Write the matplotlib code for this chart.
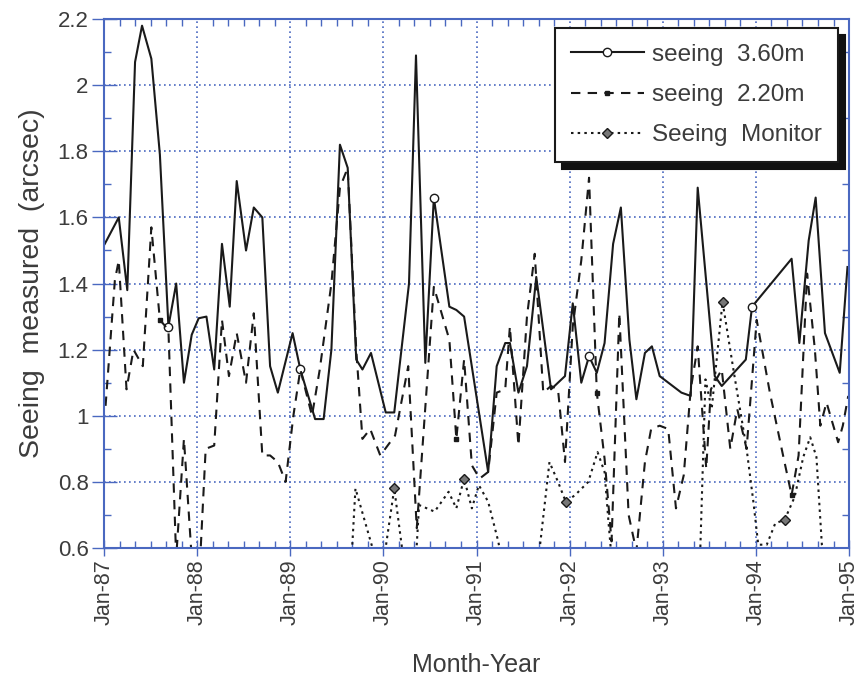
import matplotlib
matplotlib.use("Agg")
import matplotlib.pyplot as plt
from matplotlib.ticker import MultipleLocator

# months since Jan-87
seeing_360_month = [0.1, 1.9, 3.0, 4.0, 4.9, 6.1, 7.2, 8.3, 9.3, 10.3, 11.3, 12.2, 13.2, 14.2, 15.2,
                    16.2, 17.1, 18.3, 19.3, 20.4, 21.4, 22.4, 24.3, 25.3, 27.2, 28.3, 29.3, 30.4,
                    31.4, 32.5, 33.3, 34.4, 36.3, 37.4, 39.3, 40.2, 41.4, 42.5, 44.5, 45.4, 46.4,
                    49.5, 50.6, 51.7, 52.3, 53.4, 54.5, 55.7, 57.6, 59.4, 60.4, 61.5, 62.5, 63.5,
                    64.5, 65.6, 66.6, 67.7, 68.6, 69.7, 70.6, 71.6, 74.4, 75.6, 76.5, 78.7, 79.6,
                    82.7, 83.5, 88.6, 89.6, 90.8, 91.7, 92.9, 94.8, 95.8]
seeing_360 = [1.52, 1.60, 1.38, 2.07, 2.18, 2.08, 1.79, 1.27, 1.40, 1.10, 1.245, 1.295, 1.30, 1.14, 1.52,
              1.33, 1.71, 1.50, 1.63, 1.60, 1.15, 1.07, 1.25, 1.14, 0.99, 0.99, 1.20, 1.82,
              1.75, 1.17, 1.14, 1.19, 1.01, 1.01, 1.40, 2.09, 1.16, 1.66, 1.33, 1.32, 1.30,
              0.83, 1.15, 1.22, 1.22, 1.07, 1.15, 1.42, 1.08, 1.12, 1.34, 1.10, 1.18, 1.13,
              1.22, 1.52, 1.63, 1.23, 1.05, 1.19, 1.21, 1.12, 1.07, 1.06, 1.69, 1.12, 1.09,
              1.17, 1.33, 1.475, 1.22, 1.53, 1.66, 1.25, 1.13, 1.45]
seeing_360_marks = [8.3, 25.3, 42.5, 62.5, 83.5]

seeing_220_month = [0.2, 1.4, 1.9, 2.9, 3.8, 5.0, 6.1, 7.2, 8.3, 9.3, 10.3, 11.3, 12.4, 13.1, 14.2,
                    15.2, 16.1, 17.1, 18.3, 19.3, 20.4, 21.4, 22.4, 23.4, 24.4, 25.3, 26.8, 27.8,
                    29.3, 30.4, 31.4, 32.5, 33.3, 34.3, 35.6, 37.5, 39.2, 40.3, 42.5, 44.5, 45.4,
                    46.4, 47.4, 48.4, 49.5, 50.6, 51.7, 52.3, 53.4, 54.5, 55.5, 56.6, 57.6, 58.5,
                    59.4, 60.4, 61.5, 62.5, 63.5, 64.5, 65.4, 66.4, 67.6, 68.6, 69.7, 70.5, 71.6,
                    72.7, 73.7, 74.7, 75.6, 76.5, 77.6, 78.2, 79.6, 80.7, 81.6, 82.8, 84.1, 85.8,
                    87.5, 88.6, 89.5, 90.6, 91.6, 92.3, 93.1, 94.6, 95.2, 95.9]
seeing_220 = [1.03, 1.41, 1.47, 1.08, 1.20, 1.15, 1.57, 1.29, 1.26, 0.57, 0.93, 0.57, 0.57, 0.90, 0.91,
              1.29, 1.12, 1.25, 1.10, 1.31, 0.88, 0.88, 0.86, 0.80, 1.00, 1.14, 1.00, 1.14,
              1.40, 1.69, 1.75, 1.20, 0.93, 0.96, 0.88, 0.94, 1.15, 0.66, 1.39, 1.23, 0.93,
              1.17, 0.85, 0.81, 0.83, 1.07, 1.08, 1.27, 0.91, 1.30, 1.49, 1.07, 1.09, 1.08,
              0.86, 1.27, 1.47, 1.72, 1.07, 0.87, 0.62, 1.31, 0.70, 0.59, 0.86, 0.96, 0.97,
              0.96, 0.72, 0.82, 1.08, 1.21, 0.84, 1.08, 1.14, 0.90, 1.02, 0.90, 1.29, 1.07,
              0.88, 0.76, 0.88, 1.43, 1.20, 0.97, 1.04, 0.92, 0.97, 1.06]
seeing_220_marks = [7.2, 45.4, 63.5, 88.6]

monitor_month = [31.9, 32.4, 33.5, 34.6, 36.1, 37.4, 38.4, 40.2, 40.6, 41.6, 42.6, 44.4, 45.4, 46.4,
                 47.4, 48.3, 49.5, 50.8, 51.2, 56.0, 57.4, 58.5, 59.5, 60.7, 62.4, 63.6, 64.5,
                 65.0, 65.4, 76.8, 77.5, 78.3, 79.7, 81.1, 82.8, 83.7, 84.3, 85.4, 86.5, 87.7,
                 89.0, 90.1, 91.0, 91.8, 92.5, 93.0]
monitor = [0.57, 0.78, 0.69, 0.60, 0.57, 0.78, 0.60, 0.57, 0.73, 0.72, 0.71, 0.77, 0.72, 0.81,
           0.72, 0.79, 0.74, 0.62, 0.57, 0.57, 0.86, 0.80, 0.74, 0.76, 0.80, 0.89, 0.83,
           0.68, 0.57, 0.57, 1.11, 1.02, 1.345, 1.14, 0.90, 0.735, 0.61, 0.61, 0.675, 0.685,
           0.755, 0.875, 0.935, 0.875, 0.61, 0.57]
monitor_marks = [37.4, 46.4, 59.5, 79.7, 87.7]

year_labels = ["Jan-87", "Jan-88", "Jan-89", "Jan-90", "Jan-91", "Jan-92", "Jan-93", "Jan-94", "Jan-95"]
y_ticks = [0.6, 0.8, 1.0, 1.2, 1.4, 1.6, 1.8, 2.0, 2.2]
y_labels = ["0.6", "0.8", "1", "1.2", "1.4", "1.6", "1.8", "2", "2.2"]

blue = "#4a68c0"
txt = "#3c3c3c"
ink = "#1a1a1a"
plt.rcParams["font.family"] = ["Liberation Sans", "DejaVu Sans"]

fig = plt.figure(figsize=(8.61, 6.81), dpi=100)
ax = fig.add_axes([0.1208, 0.1953, 0.8653, 0.7767])

ax.plot(seeing_360_month, seeing_360, "-", color=ink, lw=1.5,
        marker="o", ms=6, mfc="white", mec=ink, mew=1.0,
        markevery=[seeing_360_month.index(m) for m in seeing_360_marks], label="seeing  3.60m")
ax.plot(seeing_220_month, seeing_220, color=ink, lw=1.5, ls=(0, (4.5, 3.5)),
        marker="s", ms=3.5, mfc=ink, mec=ink,
        markevery=[seeing_220_month.index(m) for m in seeing_220_marks], label="seeing  2.20m")
ax.plot(monitor_month, monitor, color=ink, lw=1.5, ls=(0, (1.2, 2.0)),
        marker="D", ms=5, mfc="#777777", mec=ink, mew=1.0,
        markevery=[monitor_month.index(m) for m in monitor_marks], label="Seeing  Monitor")

ax.set_xlim(0, 96)
ax.set_ylim(0.6, 2.2)
ax.set_xticks(range(0, 97, 12))
ax.set_xticklabels(year_labels, rotation=90, fontsize=15.5, color=txt)
ax.xaxis.set_minor_locator(MultipleLocator(2))
ax.set_yticks(y_ticks)
ax.set_yticklabels(y_labels, fontsize=16, color=txt)
ax.yaxis.set_minor_locator(MultipleLocator(0.1))

ax.grid(True, which="major", color=blue, ls=(0, (1, 2.0)), lw=1.2)
ax.tick_params(which="both", direction="in", color=blue, top=True, right=True, width=1.0)
ax.tick_params(which="major", length=8)
ax.tick_params(which="minor", length=5)
ax.tick_params(axis="x", which="major", direction="inout", length=12, pad=2, bottom=True, top=False)
ax.tick_params(axis="y", which="major", direction="inout", length=18, pad=2, right=False)
for s in ax.spines.values():
    s.set_color(blue)
    s.set_linewidth(1.5)

ax.set_ylabel("Seeing  measured  (arcsec)", fontsize=20.5, color=txt, labelpad=9)
ax.set_xlabel("Month-Year", fontsize=18, color=txt, labelpad=20)

leg = ax.legend(loc="upper right", bbox_to_anchor=(0.985, 0.983), borderaxespad=0,
                fontsize=17.5, handlelength=3.0, handletextpad=0.35, labelspacing=0.75,
                borderpad=0.65, fancybox=False, framealpha=1,
                shadow={"ox": 5, "oy": -5, "color": "#111111", "alpha": 1.0})
leg.get_frame().set_edgecolor(ink)
leg.get_frame().set_linewidth(1.5)
for t in leg.get_texts():
    t.set_color(txt)

fig.savefig("out.png", dpi=100)
